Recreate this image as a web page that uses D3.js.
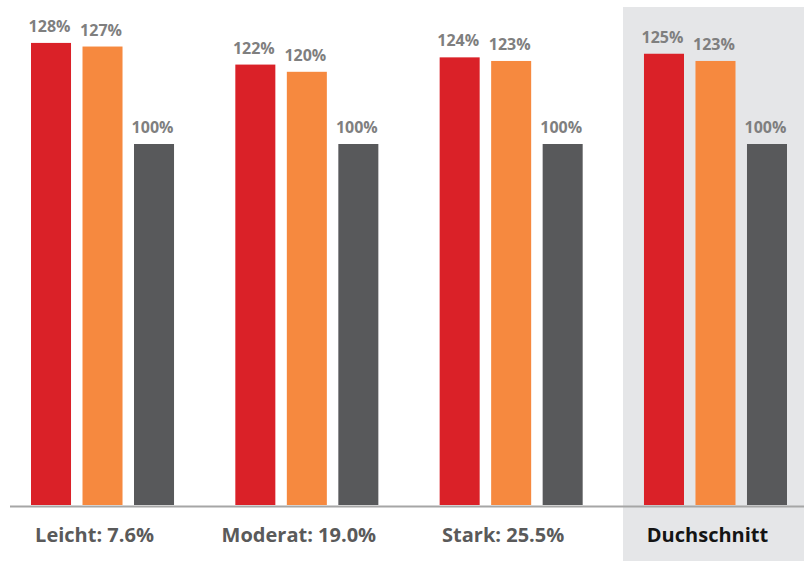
<!DOCTYPE html>
<html>
<head>
<meta charset="utf-8">
<script src="https://cdn.jsdelivr.net/npm/d3@7"></script>
<style>
  html, body { margin: 0; padding: 0; background: #ffffff; }
  svg { display: block; }
</style>
</head>
<body>
<svg id="chart" width="804" height="561"></svg>
<script>
const categories = ["Leicht: 7.6%", "Moderat: 19.0%", "Stark: 25.5%", "Duchschnitt"];
const series = ["A", "B", "C"];
const valuesA = [128, 122, 124, 125];
const valuesB = [127, 120, 123, 123];
const valuesC = [100, 100, 100, 100];
const highlighted = "Duchschnitt";

const colors = { A: "#da2128", B: "#f6893f", C: "#58595b" };

const svg = d3.select("#chart");
const W = 804, H = 561;

const x = d3.scaleBand().domain(categories).range([31, 787]).paddingInner(0.3).paddingOuter(0);
const xi = d3.scaleBand().domain(series).range([0, x.bandwidth()]).paddingInner(0.223).paddingOuter(0);
const y = d3.scaleLinear().domain([0, 100]).range([505, 144]);

const data = categories.map((c, i) => ({
  cat: c,
  vals: [
    { s: "A", v: valuesA[i] },
    { s: "B", v: valuesB[i] },
    { s: "C", v: valuesC[i] }
  ]
}));

// highlight background
svg.append("rect")
  .attr("x", x(highlighted) - 21)
  .attr("y", 7)
  .attr("width", W - (x(highlighted) - 21))
  .attr("height", H - 7)
  .attr("fill", "#e5e6e8");

const g = svg.selectAll("g.group").data(data).join("g")
  .attr("class", "group")
  .attr("transform", d => `translate(${x(d.cat)},0)`);

g.selectAll("rect").data(d => d.vals).join("rect")
  .attr("x", d => xi(d.s))
  .attr("y", d => y(d.v))
  .attr("width", xi.bandwidth())
  .attr("height", d => y(0) - y(d.v))
  .attr("fill", d => colors[d.s]);

g.selectAll("text.val").data(d => d.vals).join("text")
  .attr("class", "val")
  .attr("x", d => xi(d.s) + xi.bandwidth() / 2 - 1.5)
  .attr("y", d => y(d.v) - 11)
  .attr("text-anchor", "middle")
  .attr("font-family", "'Open Sans', sans-serif")
  .attr("font-weight", "bold")
  .attr("font-size", "16px")
  .attr("fill", "#7f7f7f")
  .text(d => d.v + "%");

// axis line
svg.append("line")
  .attr("x1", 10).attr("x2", W)
  .attr("y1", 506.5).attr("y2", 506.5)
  .attr("stroke", "#a6a6a6")
  .attr("stroke-width", 2);

// category labels
const xAxis = d3.axisBottom(x).tickSize(0).tickPadding(0);
const ax = svg.append("g").attr("transform", "translate(-8,542)").call(xAxis);
ax.select(".domain").remove();
ax.selectAll("text")
  .attr("y", 0)
  .attr("dy", 0)
  .attr("font-family", "'Open Sans', sans-serif")
  .attr("font-weight", "bold")
  .attr("font-size", "20px")
  .attr("fill", d => d === highlighted ? "#141414" : "#5a5a5a");
</script>
</body>
</html>
